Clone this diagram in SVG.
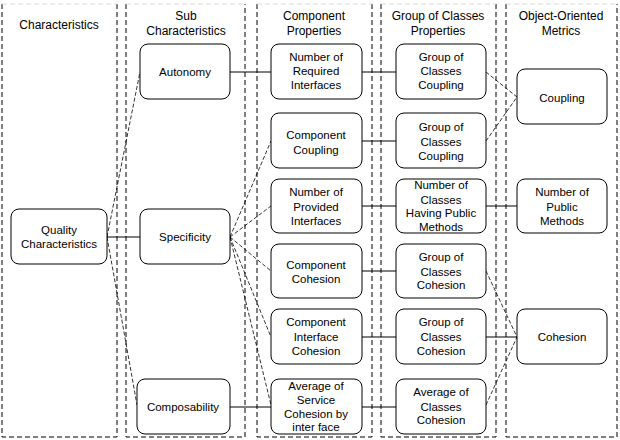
<svg xmlns="http://www.w3.org/2000/svg" width="620" height="440" viewBox="0 0 620 440">
<style>
text{font-family:"Liberation Sans",Arial,sans-serif;font-size:11.5px;fill:#000;text-anchor:middle}
.hd{font-size:12px}
.col{fill:none;stroke:#000;stroke-width:1;stroke-dasharray:5 3}
.top{fill:none;stroke:#d8d8d8;stroke-width:1;stroke-dasharray:5 3}
.nd{fill:#fff;stroke:#000;stroke-width:1}
.s{stroke:#000;stroke-width:1;fill:none}
.d{stroke:#000;stroke-width:0.8;fill:none;stroke-dasharray:4 2}
</style>
<g id="columns">
<path class="col" d="M2,4 V437 H117 V4"/>
<path class="col" d="M126,4 V437 H245 V4"/>
<path class="col" d="M257,4 V437 H372 V4"/>
<path class="col" d="M381,4 V437 H496 V4"/>
<path class="col" d="M506,4 V437 H617 V4"/>
<path class="top" d="M2,4 H117 M126,4 H245 M257,4 H372 M381,4 H496 M506,4 H617"/>
</g>
<g id="headers">
<text class="hd" x="59" y="29">Characteristics</text>
<text class="hd" x="186" y="20">Sub</text>
<text class="hd" x="186" y="35">Characteristics</text>
<text class="hd" x="314" y="20">Component</text>
<text class="hd" x="314" y="35">Properties</text>
<text class="hd" x="438" y="20">Group of Classes</text>
<text class="hd" x="438" y="35">Properties</text>
<text class="hd" x="561" y="20">Object-Oriented</text>
<text class="hd" x="561" y="35">Metrics</text>
</g>
<g id="connectors">
<line class="s" x1="107" y1="237" x2="140" y2="237"/>
<line class="d" x1="107" y1="237" x2="140" y2="72"/>
<line class="d" x1="107" y1="237" x2="137" y2="405"/>
<line class="s" x1="230" y1="72" x2="271" y2="72"/>
<line class="s" x1="230" y1="407" x2="271" y2="407"/>
<line class="d" x1="230" y1="237" x2="271" y2="141"/>
<line class="d" x1="230" y1="237" x2="271" y2="206"/>
<line class="d" x1="230" y1="237" x2="271" y2="271"/>
<line class="d" x1="230" y1="237" x2="271" y2="337"/>
<line class="d" x1="230" y1="237" x2="271" y2="405"/>
<line class="s" x1="362" y1="72" x2="396" y2="72"/>
<line class="s" x1="362" y1="141" x2="396" y2="141"/>
<line class="s" x1="362" y1="206" x2="396" y2="206"/>
<line class="s" x1="362" y1="271" x2="396" y2="271"/>
<line class="s" x1="362" y1="337" x2="396" y2="337"/>
<line class="s" x1="362" y1="407" x2="396" y2="407"/>
<line class="d" x1="486" y1="72" x2="517" y2="97"/>
<line class="d" x1="486" y1="141" x2="517" y2="97"/>
<line class="s" x1="486" y1="206" x2="517" y2="206"/>
<line class="d" x1="486" y1="271" x2="517" y2="337"/>
<line class="s" x1="486" y1="337" x2="517" y2="337"/>
<line class="d" x1="486" y1="405" x2="517" y2="337"/>
</g>
<g id="quality"><rect class="nd" x="11" y="209" width="96" height="55" rx="8"/><text x="59" y="234">Quality</text><text x="59" y="248">Characteristics</text></g>
<g id="autonomy"><rect class="nd" x="140" y="44" width="90" height="55" rx="8"/><text x="185" y="76">Autonomy</text></g>
<g id="specificity"><rect class="nd" x="140" y="209" width="90" height="55" rx="8"/><text x="185" y="241">Specificity</text></g>
<g id="composability"><rect class="nd" x="137" y="379" width="93" height="55" rx="8"/><text x="183" y="411">Composability</text></g>
<g id="nri"><rect class="nd" x="271" y="44" width="91" height="55" rx="8"/><text x="316" y="61">Number of</text><text x="316" y="75">Required</text><text x="316" y="89">Interfaces</text></g>
<g id="cc"><rect class="nd" x="271" y="113" width="91" height="55" rx="8"/><text x="316" y="139">Component</text><text x="316" y="154">Coupling</text></g>
<g id="npi"><rect class="nd" x="271" y="179" width="91" height="54" rx="8"/><text x="316" y="196">Number of</text><text x="316" y="211">Provided</text><text x="316" y="225">Interfaces</text></g>
<g id="ccoh"><rect class="nd" x="271" y="244" width="91" height="54" rx="8"/><text x="316" y="269">Component</text><text x="316" y="283">Cohesion</text></g>
<g id="cic"><rect class="nd" x="271" y="309" width="91" height="55" rx="8"/><text x="316" y="326">Component</text><text x="316" y="341">Interface</text><text x="316" y="355">Cohesion</text></g>
<g id="asc"><rect class="nd" x="271" y="379" width="91" height="55" rx="8"/><text x="316" y="390">Average of</text><text x="316" y="404">Service</text><text x="316" y="418">Cohesion by</text><text x="316" y="431">inter face</text></g>
<g id="gcc1"><rect class="nd" x="396" y="44" width="90" height="55" rx="8"/><text x="441" y="61">Group of</text><text x="441" y="75">Classes</text><text x="441" y="89">Coupling</text></g>
<g id="gcc2"><rect class="nd" x="396" y="113" width="90" height="55" rx="8"/><text x="441" y="131">Group of</text><text x="441" y="146">Classes</text><text x="441" y="160">Coupling</text></g>
<g id="nchpm"><rect class="nd" x="396" y="179" width="90" height="54" rx="8"/><text x="441" y="189">Number of</text><text x="441" y="204">Classes</text><text x="441" y="217">Having Public</text><text x="441" y="231">Methods</text></g>
<g id="gcch1"><rect class="nd" x="396" y="244" width="90" height="54" rx="8"/><text x="441" y="261">Group of</text><text x="441" y="276">Classes</text><text x="441" y="289">Cohesion</text></g>
<g id="gcch2"><rect class="nd" x="396" y="309" width="90" height="55" rx="8"/><text x="441" y="326">Group of</text><text x="441" y="341">Classes</text><text x="441" y="355">Cohesion</text></g>
<g id="acc"><rect class="nd" x="396" y="379" width="90" height="55" rx="8"/><text x="441" y="396">Average of</text><text x="441" y="411">Classes</text><text x="441" y="424">Cohesion</text></g>
<g id="coupling"><rect class="nd" x="517" y="69" width="90" height="55" rx="8"/><text x="562" y="102">Coupling</text></g>
<g id="npm"><rect class="nd" x="517" y="179" width="90" height="54" rx="8"/><text x="562" y="196">Number of</text><text x="562" y="211">Public</text><text x="562" y="225">Methods</text></g>
<g id="cohesion"><rect class="nd" x="517" y="309" width="90" height="55" rx="8"/><text x="562" y="341">Cohesion</text></g>
</svg>
